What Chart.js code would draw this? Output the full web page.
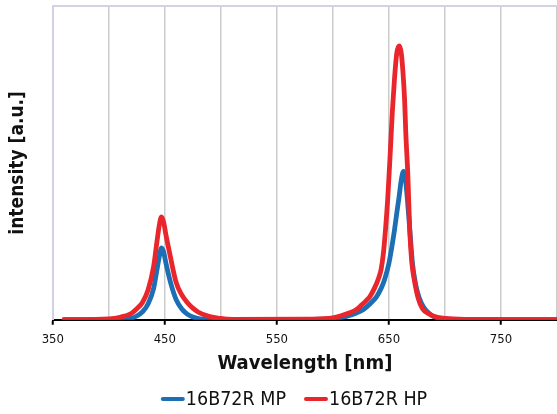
<!DOCTYPE html>
<html>
<head>
<meta charset="utf-8">
<script src="https://cdn.jsdelivr.net/npm/chart.js@4/dist/chart.umd.min.js"></script>
<style>
  html, body { margin: 0; padding: 0; background: #fff; }
  #wrap { width: 557px; height: 414px; }
</style>
</head>
<body>
<div id="wrap"><canvas id="spectrum"></canvas></div>
<script>
// emission spectra, intensity in a.u. (1 = top of plot)
const mpWavelength = [360, 400, 420, 425, 430, 435, 440, 443, 445, 447, 449, 451, 455, 460, 465, 470, 475, 480, 490, 500,
  600, 612, 620, 627, 633, 639, 643, 646, 650, 652.5, 655, 657, 659, 661, 663, 665, 667, 669, 671, 674, 677, 681, 686, 690, 700, 720, 800];
const mpIntensity = [0, 0, 0.005, 0.012, 0.025, 0.05, 0.10, 0.16, 0.20, 0.229, 0.215, 0.18, 0.12, 0.065, 0.035, 0.018, 0.009, 0.004, 0.001, 0,
  0.003, 0.011, 0.02, 0.032, 0.05, 0.074, 0.10, 0.127, 0.18, 0.23, 0.287, 0.34, 0.39, 0.445, 0.473, 0.44, 0.36, 0.27, 0.18, 0.11, 0.07, 0.04, 0.02, 0.01, 0.003, 0, 0];

const hpWavelength = [360, 400, 410, 420, 425, 430, 435, 440, 443, 445, 447, 449, 451, 455, 460, 465, 470, 475, 480, 490, 500, 510,
  580, 600, 615, 620, 625, 630, 633, 637, 641, 643, 645, 647, 649, 651, 653, 655, 657, 659.3, 661, 662.5, 664, 665, 667, 668.5, 670.5, 673, 676, 680, 686, 690, 700, 720, 800];
const hpIntensity = [0, 0.003, 0.008, 0.02, 0.035, 0.055, 0.095, 0.17, 0.25, 0.30, 0.328, 0.31, 0.27, 0.20, 0.12, 0.08, 0.055, 0.037, 0.024, 0.01, 0.004, 0.001,
  0.002, 0.006, 0.022, 0.03, 0.045, 0.062, 0.074, 0.10, 0.135, 0.16, 0.21, 0.29, 0.39, 0.52, 0.66, 0.77, 0.85, 0.873, 0.85, 0.79, 0.70, 0.60, 0.45, 0.29, 0.18, 0.12, 0.07, 0.035, 0.018, 0.011, 0.004, 0.001, 0];

const seriesNames = ['16B72R MP', '16B72R HP'];
const xTickValues = [350, 400, 450, 500, 550, 600, 650, 700, 750, 800];
const labelledTicks = [350, 450, 550, 650, 750];

const FONT = '"DejaVu Sans Condensed", "DejaVu Sans", sans-serif';
const BLUE = '#1c6eb5';
const RED = '#e8262b';

function points(xs, ys){ return xs.map((x, i) => ({x: x, y: ys[i]})); }

// light purple frame along the top of the plot
const topFrame = {
  id: 'topFrame',
  beforeDatasetsDraw(chart){
    const a = chart.chartArea, c = chart.ctx;
    c.save();
    c.strokeStyle = '#d6cfe6';
    c.lineWidth = 2;
    c.beginPath();
    c.moveTo(a.left, a.top);
    c.lineTo(a.right, a.top);
    c.stroke();
    c.restore();
  }
};

// legend row under the axis title: short round-capped stroke + name
const lineLegend = {
  id: 'lineLegend',
  afterDraw(chart, args, opts){
    const c = chart.ctx;
    const sets = chart.data.datasets;
    c.save();
    c.font = opts.size + 'px ' + FONT;
    c.textBaseline = 'middle';
    const widths = sets.map(d => opts.swatch + opts.gap + c.measureText(d.label).width);
    const total = widths.reduce((a, b) => a + b, 0) + opts.spacing * (sets.length - 1);
    let x = opts.center - total / 2;
    sets.forEach((d, i) => {
      c.strokeStyle = d.borderColor;
      c.lineWidth = 4;
      c.lineCap = 'round';
      c.beginPath();
      c.moveTo(x + 2, opts.y);
      c.lineTo(x + opts.swatch - 2, opts.y);
      c.stroke();
      c.fillStyle = '#111';
      c.fillText(d.label, x + opts.swatch + opts.gap, opts.y + 1);
      x += widths[i] + opts.spacing;
    });
    c.restore();
  }
};

new Chart(document.getElementById('spectrum'), {
  type: 'line',
  data: {
    datasets: [
      {label: seriesNames[0], data: points(mpWavelength, mpIntensity), borderColor: BLUE, order: 2},
      {label: seriesNames[1], data: points(hpWavelength, hpIntensity), borderColor: RED, order: 1}
    ]
  },
  options: {
    responsive: true,
    maintainAspectRatio: false,
    animation: false,
    layout: {padding: {top: 6, right: 0, left: 7, bottom: 38}},
    elements: {
      line: {borderWidth: 4.8, cubicInterpolationMode: 'monotone', fill: false, borderCapStyle: 'round', borderJoinStyle: 'round'},
      point: {radius: 0}
    },
    plugins: {
      tooltip: {enabled: false},
      legend: {display: false},
      lineLegend: {center: 294, y: 399, size: 19.5, swatch: 24, gap: 1, spacing: 18}
    },
    scales: {
      x: {
        type: 'linear', min: 350, max: 800,
        afterBuildTicks: axis => { axis.ticks = xTickValues.map(v => ({value: v})); },
        ticks: {
          autoSkip: false, maxRotation: 0, padding: 0,
          color: '#111', font: {family: FONT, size: 13, lineHeight: 2.25},
          callback: v => labelledTicks.includes(v) ? String(v) : ''
        },
        grid: {
          color: ctx => ctx.tick && ctx.tick.value === 350 ? 'rgba(0,0,0,0)' : '#cbcbcb',
          lineWidth: 1.5,
          tickLength: 5,
          tickColor: ctx => ctx.tick && labelledTicks.includes(ctx.tick.value) ? '#000' : 'rgba(0,0,0,0)',
          tickWidth: 2
        },
        border: {color: '#000', width: 2},
        title: {display: true, text: 'Wavelength [nm]', color: '#111', font: {family: FONT, size: 20, weight: 'bold'}, padding: {top: -2, bottom: 0}}
      },
      y: {
        min: 0, max: 1,
        ticks: {display: false},
        grid: {display: false},
        border: {color: '#d6cfe6', width: 2},
        title: {display: true, text: 'intensity [a.u.]', color: '#111', font: {family: FONT, size: 19, weight: 'bold'}, padding: {top: 0, bottom: 15}}
      }
    }
  },
  plugins: [topFrame, lineLegend]
});
</script>
</body>
</html>
